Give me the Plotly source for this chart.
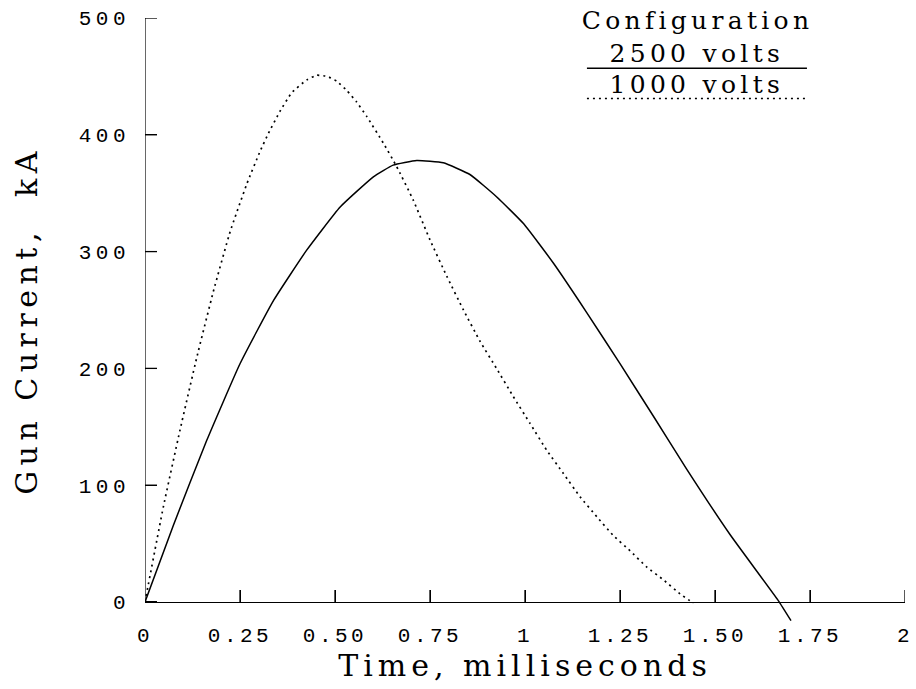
import plotly.graph_objects as go

# Data (time in ms, current in kA)
t_2500 = [0, 0.075, 0.162, 0.25, 0.338, 0.425, 0.513, 0.601, 0.653, 0.715, 0.785, 0.855, 0.925, 0.996, 1.075, 1.162, 1.25, 1.338, 1.425, 1.539, 1.667, 1.70]
i_2500 = [0, 66, 138, 204, 258, 301, 338, 364, 374, 378, 376, 366, 347, 324, 290, 248, 204, 159, 114, 58, 1, -16]

t_1000 = [0, 0.048, 0.092, 0.136, 0.18, 0.224, 0.268, 0.303, 0.3245, 0.355, 0.386, 0.4255, 0.452, 0.48, 0.504, 0.531, 0.557, 0.583, 0.627, 0.662, 0.706, 0.75, 0.794, 0.838, 0.882, 0.925, 0.969, 1.013, 1.057, 1.101, 1.145, 1.189, 1.232, 1.276, 1.32, 1.364, 1.408, 1.443]
i_1000 = [0, 81, 147, 209, 266, 317, 358, 386, 401, 420, 436, 447, 451, 450, 446, 438, 428, 416, 393, 373, 344, 310, 279, 250, 223, 200, 176, 153, 130, 110, 90, 73, 57, 44, 30, 19, 7, -1]

x_tickvals = [0, 0.25, 0.5, 0.75, 1, 1.25, 1.5, 1.75, 2]
x_ticktext = ["0", "0.25", "0.50", "0.75", "1", "1.25", "1.50", "1.75", "2"]
y_tickvals = [0, 100, 200, 300, 400, 500]
y_ticktext = ["0", "100", "200", "300", "400", "500"]

legend_title = "Configuration"
series_names = ["2500 volts", "1000 volts"]

YMIN, YMAX = -18, 500
TICKLEN = 12
serif = "DejaVu Serif"
mono = "Liberation Mono"

fig = go.Figure()
fig.add_trace(go.Scatter(x=t_2500, y=i_2500, mode="lines", name=series_names[0],
                         line=dict(color="black", width=1.5, shape="spline", smoothing=0.4)))
fig.add_trace(go.Scatter(x=t_1000, y=i_1000, mode="lines", name=series_names[1],
                         line=dict(color="black", width=1.7, dash="2px,4px", shape="spline", smoothing=0.4)))

# left axis line from 0 to 500
fig.add_shape(type="line", xref="x", yref="y", x0=0, x1=0, y0=0, y1=YMAX,
              line=dict(color="black", width=1.2))

# inward tick marks (pixel length, anchored on the axes)
for v in x_tickvals[1:]:
    fig.add_shape(type="line", xref="x", yref="y", x0=v, x1=v,
                  ysizemode="pixel", yanchor=0, y0=0, y1=TICKLEN,
                  line=dict(color="black", width=1.3))
for v in y_tickvals[1:]:
    fig.add_shape(type="line", xref="x", yref="y", y0=v, y1=v,
                  xsizemode="pixel", xanchor=0, x0=0, x1=TICKLEN,
                  line=dict(color="black", width=1.3))

# legend-like block (text above a line sample)
lx = 1.453
fig.add_annotation(x=lx, y=498, xref="x", yref="y", text=legend_title, showarrow=False,
                   font=dict(family=serif, size=25, color="black"), yanchor="middle")
fig.add_annotation(x=lx, y=470, xref="x", yref="y", text=series_names[0], showarrow=False,
                   font=dict(family=serif, size=25, color="black"), yanchor="middle")
fig.add_annotation(x=lx, y=443, xref="x", yref="y", text=series_names[1], showarrow=False,
                   font=dict(family=serif, size=25, color="black"), yanchor="middle")
fig.add_shape(type="line", xref="x", yref="y", x0=1.163, x1=1.742, y0=457, y1=457,
              line=dict(color="black", width=1.5))
fig.add_shape(type="line", xref="x", yref="y", x0=1.163, x1=1.742, y0=431, y1=431,
              line=dict(color="black", width=1.5, dash="2px,4px"))

fig.update_layout(
    width=916, height=689,
    margin=dict(l=145, r=11, t=18, b=66),
    paper_bgcolor="white", plot_bgcolor="white",
    showlegend=False,
    xaxis=dict(range=[0, 2], tickvals=x_tickvals, ticktext=x_ticktext, automargin=False,
               showgrid=False, zeroline=False, showline=True, linecolor="black", linewidth=1.2,
               ticks="inside", ticklen=TICKLEN, tickwidth=1.2, tickcolor="black",
               anchor="free", position=(0 - YMIN) / (YMAX - YMIN),
               tickfont=dict(family=mono, size=21, color="black"),
               ticklabelstandoff=14,
               title=dict(text="Time, milliseconds", font=dict(family=serif, size=30, color="black"), standoff=0)),
    yaxis=dict(range=[YMIN, YMAX], tickvals=y_tickvals, ticktext=y_ticktext, automargin=False,
               showgrid=False, zeroline=False, showline=False,
               ticks="inside", ticklen=TICKLEN, tickwidth=1.2, tickcolor="black",
               tickfont=dict(family=mono, size=21, color="black"),
               ticklabelstandoff=14,
               title=dict(text="Gun Current,  kA", font=dict(family=serif, size=30, color="black"), standoff=45)),
)

post = """
document.documentElement.style.margin = '0';
document.body.style.margin = '0';
document.body.style.overflow = 'hidden';
var gd = document.getElementById('{plot_id}');
function spacing(){
  function ls(sel, v){ gd.querySelectorAll(sel).forEach(function(e){ e.style.letterSpacing = v; }); }
  ls('.xtick text', '3.5px');
  ls('.ytick text', '4.5px');
  ls('.xtitle', '5px');
  ls('.ytitle', '5.5px');
  ls('.annotation-text', '4.3px');
}
spacing();
gd.on('plotly_afterplot', spacing);
"""

fig.write_html("out.html", post_script=post, config={"displayModeBar": False})
